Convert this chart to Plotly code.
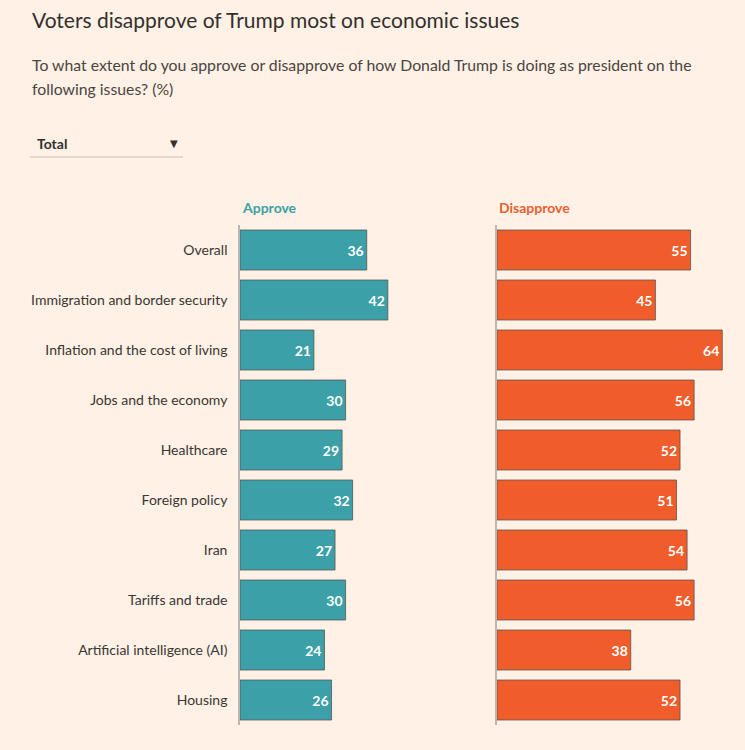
import plotly.graph_objects as go

categories = [
    "Overall",
    "Immigration and border security",
    "Inflation and the cost of living",
    "Jobs and the economy",
    "Healthcare",
    "Foreign policy",
    "Iran",
    "Tariffs and trade",
    "Artificial intelligence (AI)",
    "Housing",
]
approve = [36, 42, 21, 30, 29, 32, 27, 30, 24, 26]
disapprove = [55, 45, 64, 56, 52, 51, 54, 56, 38, 52]

BG = "#FFF1E5"
TEAL = "#3BA0A7"
ORANGE = "#F15D2A"
TEXT = "#33302E"
FONT = "Lato, Roboto, sans-serif"
W, H = 745, 750

s = 3.52  # px per unit
lx0, lx1 = 240, 482
rx0, rx1 = 497, 729

fig = go.Figure()
fig.add_trace(go.Bar(
    x=approve, y=categories, orientation="h",
    marker=dict(color=TEAL, line=dict(color="rgba(80,80,80,0.75)", width=1)),
    text=[str(v) for v in approve], textposition="inside", insidetextanchor="end",
    textfont=dict(color="white", size=14, family=FONT, weight="bold"),
    xaxis="x", yaxis="y", width=0.8, hoverinfo="skip", cliponaxis=False,
))
fig.add_trace(go.Bar(
    x=disapprove, y=categories, orientation="h",
    marker=dict(color=ORANGE, line=dict(color="rgba(80,80,80,0.75)", width=1)),
    text=[str(v) for v in disapprove], textposition="inside", insidetextanchor="end",
    textfont=dict(color="white", size=14, family=FONT, weight="bold"),
    xaxis="x2", yaxis="y2", width=0.8, hoverinfo="skip", cliponaxis=False,
))

top, bottom = 225, 725
fig.update_layout(
    width=W, height=H,
    paper_bgcolor=BG, plot_bgcolor=BG,
    margin=dict(l=0, r=0, t=top, b=H - bottom),
    showlegend=False,
    font=dict(family=FONT, color=TEXT, size=14),
    xaxis=dict(domain=[lx0 / W, lx1 / W], range=[0, (lx1 - lx0) / s],
               visible=False, fixedrange=True),
    xaxis2=dict(domain=[rx0 / W, rx1 / W], range=[0, (rx1 - rx0) / s],
                visible=False, fixedrange=True),
    yaxis=dict(domain=[0, 1], autorange="reversed", showline=True,
               linecolor="#BDB5AE", linewidth=1.5, showgrid=False, zeroline=False,
               ticks="", ticklabelstandoff=8,
               tickfont=dict(size=14, color="#3A3634", family=FONT), fixedrange=True),
    yaxis2=dict(domain=[0, 1], autorange="reversed", anchor="x2", showline=True,
                linecolor="#BDB5AE", linewidth=1.5, showgrid=False, zeroline=False,
                showticklabels=False, ticks="", fixedrange=True),
)

def py(y):
    return 1 - (y - top) / (bottom - top)

annos = [
    dict(text="Voters disapprove of Trump most on economic issues", x=30 / W, y=py(19),
         font=dict(size=21, color=TEXT, family=FONT)),
    dict(text="To what extent do you approve or disapprove of how Donald Trump is doing as president on the",
         x=30 / W, y=py(65), font=dict(size=15.8, color="#4A4542", family=FONT)),
    dict(text="following issues? (%)", x=30 / W, y=py(88),
         font=dict(size=15.8, color="#4A4542", family=FONT)),
    dict(text="Total", x=35 / W, y=py(143), font=dict(size=14, color=TEXT, family=FONT, weight="bold")),
    dict(text="▼", x=168 / W, y=py(143), font=dict(size=10, color=TEXT, family="DejaVu Sans")),
    dict(text="Approve", x=lx0 / W, y=py(207), font=dict(size=14, color=TEAL, family=FONT, weight="bold")),
    dict(text="Disapprove", x=rx0 / W, y=py(207), font=dict(size=14, color="#E8602E", family=FONT, weight="bold")),
]
for a in annos:
    fig.add_annotation(xref="paper", yref="paper", xanchor="left", yanchor="middle",
                       showarrow=False, **a)

fig.add_shape(type="line", xref="paper", yref="paper",
              x0=30 / W, x1=183 / W, y0=py(157), y1=py(157),
              line=dict(color="#C9C1B9", width=1))

fig.write_html("out.html", config={"displayModeBar": False},
               post_script="document.body.style.margin='0';document.body.style.overflow='hidden';document.body.style.background='#FFF1E5';")
